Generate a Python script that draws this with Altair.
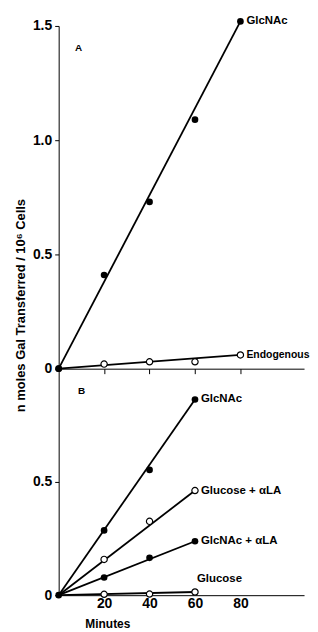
import altair as alt
import pandas as pd

# ---- Panel A data ----
a_minutes = [0, 20, 40, 60, 80]
a_glcnac = [0, 0.41, 0.73, 1.09, 1.52]
a_endog = [0, 0.02, 0.03, 0.03, 0.06]
a_fit_minutes = [0, 80]
a_glcnac_fit = [0, 1.52]
a_endog_fit = [0, 0.06]

# ---- Panel B data ----
b_minutes = [0, 20, 40, 60]
b_glcnac = [0, 0.286, 0.553, 0.864]
b_glc_ala = [0, 0.158, 0.326, 0.462]
b_glcnac_ala = [0, 0.078, 0.165, 0.238]
b_glucose = [0, 0.004, 0.005, 0.014]
b_fit_minutes = [0, 60]
b_glcnac_fit = [0, 0.864]
b_glc_ala_fit = [0, 0.462]
b_glcnac_ala_fit = [0, 0.238]
b_glucose_fit = [0, 0.014]

x_ticks = [20, 40, 60, 80]
a_y_ticks = [0, 0.5, 1.0, 1.5]
b_y_ticks = [0, 0.5]

FONT = "Liberation Sans"


def pts(name, xs, ys, filled):
    return pd.DataFrame({"series": name, "minutes": xs, "value": ys, "filled": filled})


def fit(name, xs, ys):
    return pd.DataFrame({"series": name, "minutes": xs, "value": ys})


a_points = pd.concat([
    pts("GlcNAc", a_minutes, a_glcnac, True),
    pts("Endogenous", a_minutes[1:], a_endog[1:], False),
    pts("origin", [0], [0], True),
])
a_lines = pd.concat([
    fit("GlcNAc", a_fit_minutes, a_glcnac_fit),
    fit("Endogenous", a_fit_minutes, a_endog_fit),
])
a_labels = pd.DataFrame({"label": ["GlcNAc"], "minutes": [a_fit_minutes[-1]],
                         "value": [a_glcnac_fit[-1]]})
a_small_labels = pd.DataFrame({"label": ["Endogenous"], "minutes": [a_fit_minutes[-1]],
                               "value": [a_endog_fit[-1]]})

b_points = pd.concat([
    pts("GlcNAc", b_minutes[1:], b_glcnac[1:], True),
    pts("Glucose + αLA", b_minutes[1:], b_glc_ala[1:], False),
    pts("GlcNAc + αLA", b_minutes[1:], b_glcnac_ala[1:], True),
    pts("Glucose", b_minutes[1:], b_glucose[1:], False),
    pts("origin", [0], [0], True),
])
b_lines = pd.concat([
    fit("GlcNAc", b_fit_minutes, b_glcnac_fit),
    fit("Glucose + αLA", b_fit_minutes, b_glc_ala_fit),
    fit("GlcNAc + αLA", b_fit_minutes, b_glcnac_ala_fit),
    fit("Glucose", b_fit_minutes, b_glucose_fit),
])
b_labels = pd.DataFrame({
    "label": ["GlcNAc", "Glucose + αLA", "GlcNAc + αLA"],
    "minutes": [60, 60, 60],
    "value": [b_glcnac_fit[-1], b_glc_ala_fit[-1], b_glcnac_ala_fit[-1]],
})
b_glucose_label = pd.DataFrame({"label": ["Glucose"], "minutes": [60], "value": [b_glucose_fit[-1]]})

W = 247
XDOM = [0, 108]


def panel(points, lines, labels, ydom, yticks, height, show_xlabels, letter, tag_x,
          extra_labels=None, small_labels=None, ytitle=False):
    x_axis = alt.Axis(
        values=x_ticks, labels=show_xlabels, ticks=not show_xlabels, tickSize=5,
        domainColor="black", tickColor="black", grid=False,
        labelFont=FONT, labelFontSize=14, labelFontWeight="bold", labelColor="black",
        labelPadding=1,
        title="Minutes" if show_xlabels else None,
        titleFont=FONT, titleFontSize=12, titleFontWeight="bold", titleColor="black",
        titleX=49, titleY=29, titleBaseline="middle", titleAlign="center",
    )
    y_axis = alt.Axis(
        values=yticks, labelExpr="datum.value == 0 ? '0' : format(datum.value, '.1f')",
        ticks=True, tickSize=4, domainColor="black", tickColor="black", grid=False,
        labelFont=FONT, labelFontSize=14, labelFontWeight="bold", labelColor="black",
        labelPadding=3,
        title="n moles Gal Transferred / 10⁶ Cells" if ytitle else None,
        titleFont=FONT, titleFontSize=13, titleFontWeight="bold", titleColor="black",
        titleX=-38, titleY=281, titleAngle=-90, titleBaseline="middle", titleAlign="center",
    )
    x = alt.X("minutes:Q", scale=alt.Scale(domain=XDOM, nice=False), axis=x_axis)
    y = alt.Y("value:Q", scale=alt.Scale(domain=ydom, nice=False), axis=y_axis)

    line = alt.Chart(lines).mark_line(color="black", strokeWidth=1.8).encode(
        x=x, y=y, detail="series:N")
    filled = alt.Chart(points).transform_filter("datum.filled").mark_point(
        shape="circle", filled=True, color="black", size=45, opacity=1).encode(x=x, y=y)
    hollow = alt.Chart(points).transform_filter("!datum.filled").mark_point(
        shape="circle", filled=True, fill="white", stroke="black", strokeWidth=1.2,
        size=40, opacity=1).encode(x=x, y=y)
    text = alt.Chart(labels).mark_text(
        align="left", baseline="middle", dx=6, font=FONT, fontSize=11.5,
        fontWeight="bold", color="black").encode(x=x, y=y, text="label:N")
    tag = alt.Chart(pd.DataFrame({"t": [letter]})).mark_text(
        align="center", baseline="middle", font=FONT, fontSize=10, fontWeight="bold",
        color="black").encode(x=alt.value(tag_x), y=alt.value(22), text="t:N")
    layers = [line, filled, hollow, text, tag]
    if small_labels is not None:
        layers.append(alt.Chart(small_labels).mark_text(
            align="left", baseline="middle", dx=6, font=FONT, fontSize=10.5,
            fontWeight="bold", color="black").encode(x=x, y=y, text="label:N"))
    if extra_labels is not None:
        layers.append(alt.Chart(extra_labels).mark_text(
            align="left", baseline="middle", dx=2, dy=-13, font=FONT, fontSize=11.5,
            fontWeight="bold", color="black").encode(x=x, y=y, text="label:N"))
    return alt.layer(*layers).properties(width=W, height=height)


pA = panel(a_points, a_lines, a_labels, [0, 1.5], a_y_ticks, 345, False, "A", 20,
           small_labels=a_small_labels, ytitle=True)
pB = panel(b_points, b_lines, b_labels, [0, 1.0], b_y_ticks, 228, True, "B", 23,
           extra_labels=b_glucose_label)

chart = alt.vconcat(pA, pB, spacing=0, bounds="flush").properties(
    padding={"left": 7, "top": 5, "right": 0, "bottom": 0}
).configure_view(stroke=None).configure_concat(spacing=0)

chart.save("out.html", embed_options={"renderer": "svg", "actions": False})
